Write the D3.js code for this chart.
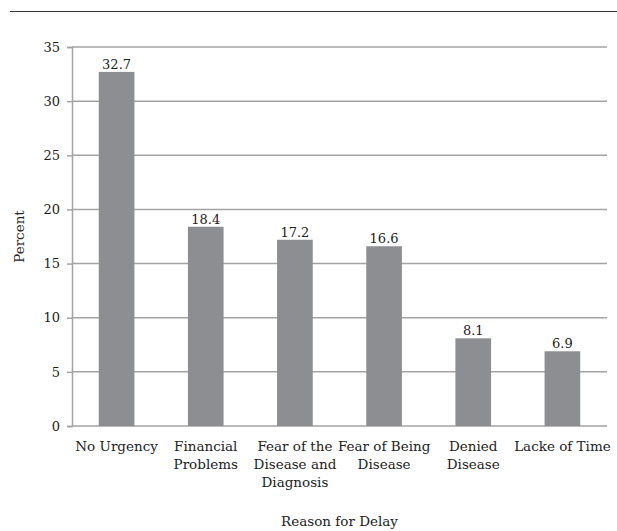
<!DOCTYPE html>
<html>
<head>
  <meta charset="utf-8">
  <title>Reason for Delay</title>
  <script src="https://d3js.org/d3.v7.min.js"></script>
  <style>
    body { margin: 0; background: #fff; }
    text { font-family: "DejaVu Serif", "Liberation Serif", serif; fill: #222; }
  </style>
</head>
<body>
<svg class="svgchart" width="617" height="531"></svg>
<script>

var categories = ["No Urgency", "Financial\nProblems", "Fear of the\nDisease and\nDiagnosis",
                  "Fear of Being\nDisease", "Denied\nDisease", "Lacke of Time"];
var values = [32.7, 18.4, 17.2, 16.6, 8.1, 6.9];
var yTicks = [0, 5, 10, 15, 20, 25, 30, 35];

var margin = {top: 47, right: 10, bottom: 105, left: 72},
    width = 617 - margin.left - margin.right,
    height = 531 - margin.top - margin.bottom;

var svg = d3.select(".svgchart");

// rule across the top of the figure
svg.append("line")
    .attr("x1", 10).attr("x2", 617)
    .attr("y1", 11.5).attr("y2", 11.5)
    .attr("stroke", "#333").attr("stroke-width", 1.2);

var chart = svg.append("g")
    .attr("transform", "translate(" + margin.left + "," + margin.top + ")");

var x = d3.scaleBand()
    .domain(categories)
    .range([0, width])
    .paddingInner(0.6)
    .paddingOuter(0.3);

var y = d3.scaleLinear()
    .domain([0, 35])
    .range([height, 0]);

// gridlines
chart.selectAll(".grid")
    .data(yTicks)
  .enter().append("line")
    .attr("class", "grid")
    .attr("x1", 0).attr("x2", width)
    .attr("y1", function(d) { return y(d); })
    .attr("y2", function(d) { return y(d); })
    .attr("stroke", "#a3a3a3").attr("stroke-width", 1.5);

// y axis
var yAxis = chart.append("g")
    .call(d3.axisLeft(y).tickValues(yTicks).tickSize(5).tickPadding(7));
yAxis.select(".domain").attr("stroke", "#a3a3a3").attr("stroke-width", 1.5);
yAxis.selectAll(".tick line").attr("stroke", "#a3a3a3").attr("stroke-width", 1.5);
yAxis.selectAll(".tick text")
    .style("font-family", "DejaVu Serif, serif")
    .style("font-size", "13px")
    .attr("fill", "#222");

// bars
chart.selectAll(".bar")
    .data(values)
  .enter().append("rect")
    .attr("class", "bar")
    .attr("x", function(d, i) { return x(categories[i]); })
    .attr("y", function(d) { return y(d); })
    .attr("width", x.bandwidth())
    .attr("height", function(d) { return height - y(d); })
    .attr("fill", "#8d8e91");

// value labels
chart.selectAll(".val")
    .data(values)
  .enter().append("text")
    .attr("class", "val")
    .attr("x", function(d, i) { return x(categories[i]) + x.bandwidth() / 2; })
    .attr("y", function(d) { return y(d) - 3; })
    .attr("text-anchor", "middle")
    .style("font-size", "13px")
    .text(function(d) { return d.toFixed(1); });

// category labels
var cat = chart.selectAll(".cat")
    .data(categories)
  .enter().append("text")
    .attr("class", "cat")
    .attr("text-anchor", "middle")
    .attr("transform", function(d) {
      return "translate(" + (x(d) + x.bandwidth() / 2) + "," + (height + 25) + ")";
    })
    .style("font-size", "13.5px");
cat.selectAll("tspan")
    .data(function(d) { return d.split("\n"); })
  .enter().append("tspan")
    .attr("x", 0)
    .attr("dy", function(d, i) { return i === 0 ? 0 : 18; })
    .text(function(d) { return d; });

// axis titles
chart.append("text")
    .attr("transform", "translate(-48," + (height / 2) + ") rotate(-90)")
    .attr("text-anchor", "middle")
    .style("font-size", "13.5px")
    .text("Percent");

chart.append("text")
    .attr("x", width / 2)
    .attr("y", height + 100)
    .attr("text-anchor", "middle")
    .style("font-size", "13.5px")
    .text("Reason for Delay");

</script>
</body>
</html>
